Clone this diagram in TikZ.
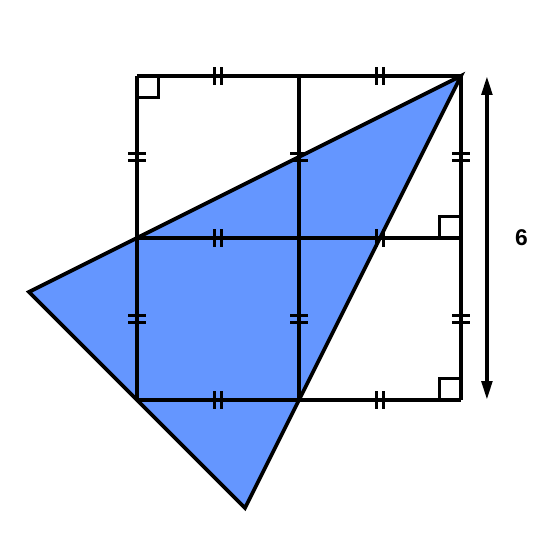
\documentclass[tikz,border=0pt]{standalone}
\usepackage{fontspec}
\setmainfont{Liberation Sans}
\usetikzlibrary{arrows.meta}
\definecolor{triblue}{RGB}{100,150,255}
\begin{document}
\begin{tikzpicture}[>={Triangle[length=10pt,width=5.5pt]}, line width=2pt]
        \useasboundingbox (-2.537,-2.556) rectangle (7.759,7.407);
        \fill[triblue] (6,6) -- (-2,2) -- (2,-2) -- cycle;
        \foreach \x in {0,3,6}
            {
                \draw (\x,0) -- (\x,6);
                \draw (0,\x) -- (6,\x);
            }
        \draw (6,6) -- (-2,2) -- (2,-2) -- cycle;
        % equal-length ticks
        \foreach \x in {0,3,6}
            {
                \foreach \y in {1.5,4.5}
                    {
                        \draw[line width=1.6pt] (\x-.16,\y-.06) -- (\x+.16,\y-.06);
                        \draw[line width=1.6pt] (\x-.16,\y+.06) -- (\x+.16,\y+.06);
                        \draw[line width=1.6pt] (\y-.06,\x-.16) -- (\y-.06,\x+.16);
                        \draw[line width=1.6pt] (\y+.06,\x-.16) -- (\y+.06,\x+.16);
                    }
            }
        % right angles
        \draw[line width=1.2pt] (0,5.6) -- (.4,5.6) -- (.4,6);
        \draw[line width=1.2pt] (5.6,3) -- (5.6,3.4) -- (6,3.4);
        \draw[line width=1.2pt] (5.6,0) -- (5.6,.4) -- (6,.4);
        \coordinate (lo) at (6.48,0);
        \coordinate (hi) at (6.48,6);
        \draw[<->] (lo) -- (hi);
        \node[font=\bfseries\large] (len) at (7.12,3) {6};
    \end{tikzpicture}
\end{document}
